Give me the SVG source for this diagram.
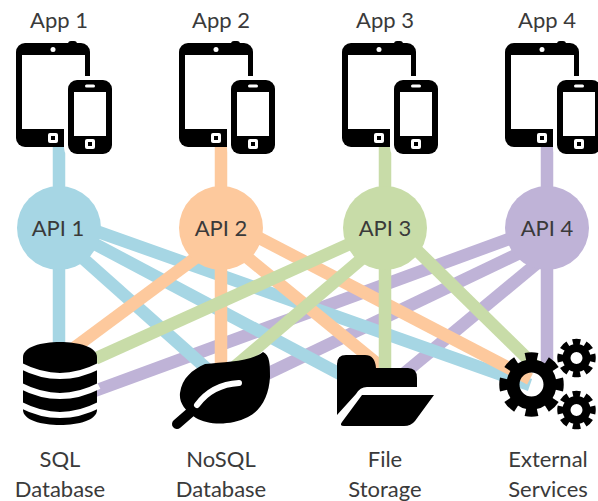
<svg xmlns="http://www.w3.org/2000/svg" width="598" height="501" viewBox="0 0 598 501">
<style>
text{font-family:"Lato","Open Sans","Liberation Sans",sans-serif;font-size:22px;fill:#3a3a3a;text-anchor:middle}
.c line{stroke-width:12.500;fill:none}
.b line{stroke:#a6d6e4}.o line{stroke:#fdc99d}.g line{stroke:#c8dca8}.p line{stroke:#bfb3d7}
.k{fill:#000}.w{fill:#fff}
</style>
<defs>
<g id="dev">
<rect class="k" x="16" y="43" width="74" height="104" rx="9"/>
<rect class="k" x="68" y="41" width="9" height="6" rx="3"/>
<rect class="w" x="22" y="55" width="63" height="74"/>
<circle class="w" cx="53" cy="49.500" r="2.500"/>
<rect class="w" x="48" y="133" width="10" height="10" rx="2"/>
<rect class="k" x="51" y="136" width="4" height="4"/>
<rect class="w" x="64" y="76" width="50" height="82" rx="10"/>
<rect class="k" x="68" y="80" width="44" height="74" rx="9"/>
<rect class="w" x="74" y="92" width="32" height="44"/>
<rect class="w" x="85" y="84.500" width="10" height="3" rx="1.500"/>
<rect class="w" x="85" y="139" width="10" height="10" rx="2"/>
<rect class="k" x="88" y="142" width="4" height="4"/>
</g>
</defs>
<g id="connectors" class="c">
<g class="p">
<line x1="547" y1="145" x2="547" y2="365"/>
<line x1="547" y1="225" x2="70" y2="400"/>
<line x1="547" y1="240" x2="250" y2="382"/>
<line x1="547" y1="255" x2="395" y2="381"/>
</g>
<g class="b">
<line x1="59" y1="145" x2="59" y2="350"/>
<line x1="59" y1="237" x2="215" y2="376"/>
<line x1="59" y1="225" x2="355" y2="382"/>
<line x1="59" y1="218" x2="530" y2="385"/>
</g>
<g class="o">
<line x1="221" y1="145" x2="221" y2="370"/>
<line x1="221" y1="239" x2="70" y2="351"/>
<line x1="221" y1="236" x2="385" y2="370"/>
<line x1="221" y1="218" x2="530" y2="379"/>
</g>
<g class="g">
<line x1="385" y1="145" x2="385" y2="375"/>
<line x1="385" y1="228" x2="70" y2="370"/>
<line x1="385" y1="239" x2="225" y2="375"/>
<line x1="385" y1="219" x2="535" y2="366"/>
</g>
</g>
<g id="app1"><text x="59" y="28">App 1</text><use href="#dev"/></g>
<g id="app2"><text x="221" y="28">App 2</text><use href="#dev" x="163"/></g>
<g id="app3"><text x="385" y="28">App 3</text><use href="#dev" x="326"/></g>
<g id="app4"><text x="547" y="28">App 4</text><use href="#dev" x="489"/></g>
<g id="api1"><circle cx="59" cy="228" r="42" fill="#a6d6e4"/><text x="58" y="236">API 1</text></g>
<g id="api2"><circle cx="221" cy="228" r="42" fill="#fdc99d"/><text x="221" y="236">API 2</text></g>
<g id="api3"><circle cx="385" cy="228" r="42" fill="#c8dca8"/><text x="385" y="236">API 3</text></g>
<g id="api4"><circle cx="547" cy="228" r="42" fill="#bfb3d7"/><text x="547" y="236">API 4</text></g>
<g id="sql">
<path class="k" d="M23 357C23 337 97 337 97 357V410C97 430 23 430 23 410Z"/>
<g fill="none" stroke="#fff" stroke-width="6">
<path d="M21 366Q60 386 99 366"/>
<path d="M21 386Q60 406 99 386"/>
<path d="M21 405Q60 425 99 405"/>
</g>
<text x="60" y="467">SQL</text><text x="60" y="497">Database</text>
</g>
<g id="nosql">
<path class="k" d="M263 352C270 355 270 365 270 377C269 395 262 410 248 417C230 426 208 425 196 418C184 410 179 402 180 393C182 378 192 370 205 364C225 362 250 362 263 352Z"/>
<path d="M192 411L177 424" stroke="#000" stroke-width="10" stroke-linecap="round" fill="none"/>
<path d="M197 405C208 390 222 384 239 383" stroke="#fff" stroke-width="6" stroke-linecap="round" fill="none"/>
<text x="221" y="467">NoSQL</text><text x="221" y="497">Database</text>
</g>
<g id="file">
<path class="k" d="M337 364Q337 355 346 355H365Q375 355 376 368H408Q417 368 417 378V387H367Q360 387 356 394L337 415Z"/>
<path class="k" d="M362 395H434L415 421Q411 426 404 426H344Q339 426 342 422Z"/>
<text x="385" y="467">File</text><text x="385" y="497">Storage</text>
</g>
<g id="ext">
<g fill="none" stroke="#000">
<circle cx="531.500" cy="384.500" r="18.500" stroke-width="13"/>
<circle cx="531.500" cy="384.500" r="27.500" stroke-width="9.500" pathLength="80" stroke-dasharray="5.500 4.500" stroke-dashoffset="2.750"/>
<circle cx="576.500" cy="358" r="10" stroke-width="8"/>
<circle cx="576.500" cy="358" r="16" stroke-width="6.500" pathLength="80" stroke-dasharray="6 4" stroke-dashoffset="3"/>
<circle cx="576.500" cy="410" r="10" stroke-width="8"/>
<circle cx="576.500" cy="410" r="16" stroke-width="6.500" pathLength="80" stroke-dasharray="6 4" stroke-dashoffset="3"/>
</g>
<text x="548" y="467">External</text><text x="548" y="497">Services</text>
</g>
</svg>
